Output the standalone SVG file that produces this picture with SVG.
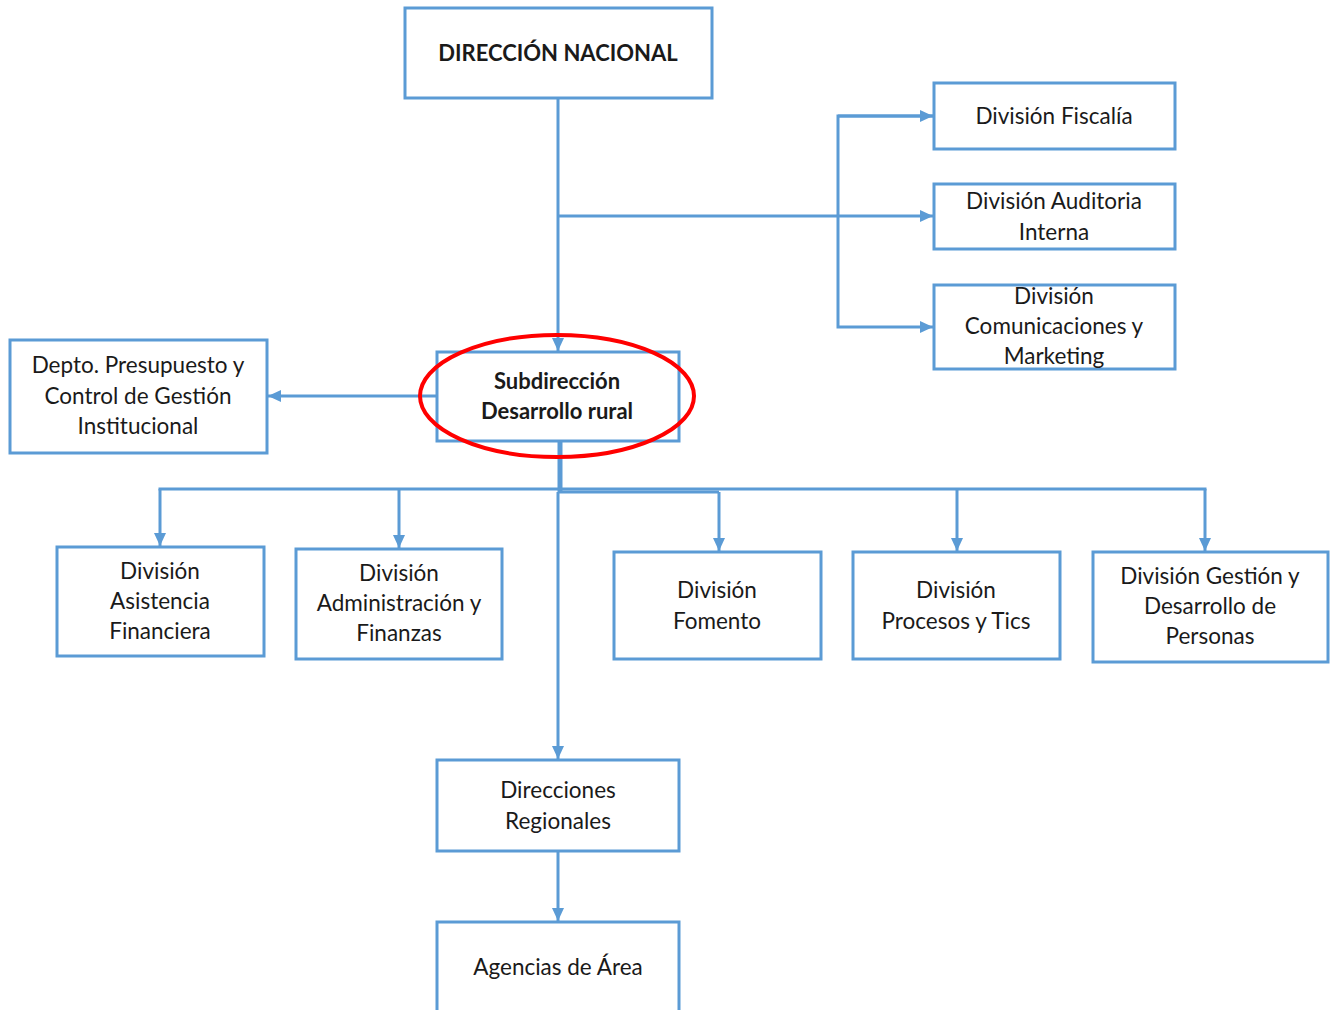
<svg xmlns="http://www.w3.org/2000/svg" width="1330" height="1010" viewBox="0 0 1330 1010">
<style>
.box{fill:#fff;stroke:#5B9BD5;stroke-width:3}
.t{font-family:Lato,"Liberation Sans",sans-serif;font-size:22.5px;fill:#1a1a1a;text-anchor:middle}
.b{font-weight:bold;font-size:22px}
.c{fill:none;stroke:#5B9BD5;stroke-width:3}
</style>
<defs>
<marker id="ah" markerUnits="userSpaceOnUse" markerWidth="14" markerHeight="12" refX="13" refY="6" orient="auto">
<path d="M0,0 L13,6 L0,12 Z" fill="#5B9BD5"/>
</marker>
</defs>
<rect width="1330" height="1010" fill="#fff"/>
<g id="connectors">
<line class="c" x1="558" y1="98" x2="558" y2="351" marker-end="url(#ah)"/>
<line class="c" x1="558" y1="216" x2="933" y2="216" marker-end="url(#ah)"/>
<polyline class="c" points="933,116 838,116 838,327 933,327" marker-end="url(#ah)"/>
<line class="c" x1="838" y1="116" x2="933" y2="116" marker-end="url(#ah)"/>
<line class="c" x1="437" y1="396" x2="268" y2="396" marker-end="url(#ah)"/>
<line class="c" x1="560" y1="441" x2="560" y2="492" style="stroke-width:5"/>
<line class="c" x1="160" y1="489" x2="1205" y2="489" stroke-linecap="square"/>
<line class="c" x1="558" y1="492" x2="719" y2="492"/>
<line class="c" x1="160" y1="489" x2="160" y2="546" marker-end="url(#ah)"/>
<line class="c" x1="399" y1="489" x2="399" y2="548" marker-end="url(#ah)"/>
<line class="c" x1="719" y1="492" x2="719" y2="551" marker-end="url(#ah)"/>
<line class="c" x1="957" y1="489" x2="957" y2="551" marker-end="url(#ah)"/>
<line class="c" x1="1205" y1="489" x2="1205" y2="551" marker-end="url(#ah)"/>
<line class="c" x1="558" y1="492" x2="558" y2="759" marker-end="url(#ah)"/>
<line class="c" x1="558" y1="851" x2="558" y2="921" marker-end="url(#ah)"/>
</g>
<g id="n-direccion"><rect class="box" x="405" y="8" width="307" height="90"/><text class="t b" x="558" y="61">DIRECCIÓN NACIONAL</text></g>
<g id="n-fiscalia"><rect class="box" x="934" y="83" width="241" height="66"/><text class="t" x="1054" y="124">División Fiscalía</text></g>
<g id="n-auditoria"><rect class="box" x="934" y="184" width="241" height="65"/><text class="t" x="1054" y="209">División Auditoria</text><text class="t" x="1054" y="240">Interna</text></g>
<g id="n-comunicaciones"><rect class="box" x="934" y="285" width="241" height="84"/><text class="t" x="1054" y="304">División</text><text class="t" x="1054" y="334">Comunicaciones y</text><text class="t" x="1054" y="364">Marketing</text></g>
<g id="n-depto"><rect class="box" x="10" y="340" width="257" height="113"/><text class="t" x="138" y="373">Depto. Presupuesto y</text><text class="t" x="138" y="404">Control de Gestión</text><text class="t" x="138" y="434">Institucional</text></g>
<g id="n-subdireccion"><rect class="box" x="437" y="352" width="242" height="89"/><text class="t b" x="557" y="389">Subdirección</text><text class="t b" x="557" y="419">Desarrollo rural</text>
<ellipse cx="557" cy="396" rx="137" ry="61" fill="none" stroke="#FF0000" stroke-width="4"/></g>
<g id="n-asistencia"><rect class="box" x="57" y="547" width="207" height="109"/><text class="t" x="160" y="579">División</text><text class="t" x="160" y="609">Asistencia</text><text class="t" x="160" y="639">Financiera</text></g>
<g id="n-administracion"><rect class="box" x="296" y="549" width="206" height="110"/><text class="t" x="399" y="581">División</text><text class="t" x="399" y="611">Administración y</text><text class="t" x="399" y="641">Finanzas</text></g>
<g id="n-fomento"><rect class="box" x="614" y="552" width="207" height="107"/><text class="t" x="717" y="598">División</text><text class="t" x="717" y="629">Fomento</text></g>
<g id="n-procesos"><rect class="box" x="853" y="552" width="207" height="107"/><text class="t" x="956" y="598">División</text><text class="t" x="956" y="629">Procesos y Tics</text></g>
<g id="n-gestion"><rect class="box" x="1093" y="552" width="235" height="110"/><text class="t" x="1210" y="584">División Gestión y</text><text class="t" x="1210" y="614">Desarrollo de</text><text class="t" x="1210" y="644">Personas</text></g>
<g id="n-regionales"><rect class="box" x="437" y="760" width="242" height="91"/><text class="t" x="558" y="798">Direcciones</text><text class="t" x="558" y="829">Regionales</text></g>
<g id="n-agencias"><rect class="box" x="437" y="922" width="242" height="100"/><text class="t" x="558" y="975">Agencias de Área</text></g>
</svg>
